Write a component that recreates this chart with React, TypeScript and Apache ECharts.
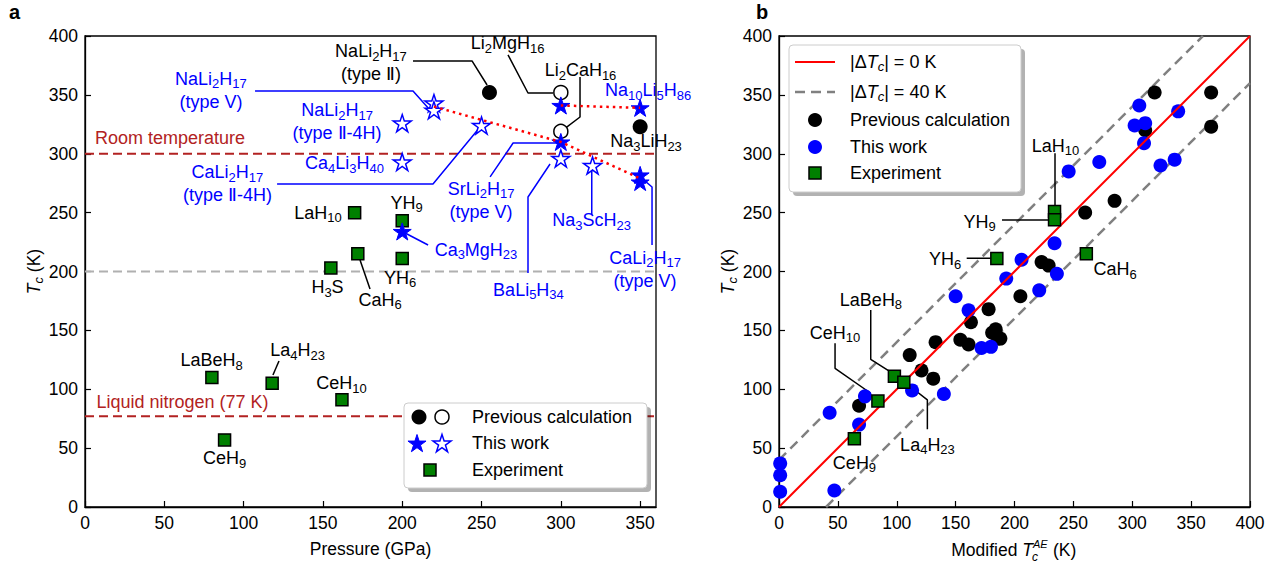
import React, { useEffect, useRef } from 'react';
import * as echarts from 'echarts';

const FONT = '"Liberation Sans", Arial, Helvetica, sans-serif';
const BLUE = '#0000ff';
const GREEN = '#008000';
const BROWN = '#b22222';
const GREY_A = '#b0b0b0';
const GREY_B = '#808080';
const FS = 18;
const FS_SUB = 13;

// ---------------- Panel a : Tc vs pressure ----------------
const aPrevFilled = [[255, 352], [350, 323]];
const aPrevOpen = [[300, 352], [300, 319]];
const aWorkFilled = [[300, 341], [350, 339], [300, 310], [350, 282], [350, 276], [200, 234]];
const aWorkOpen = [[220, 343], [220, 337], [200, 326], [250, 324], [200, 293], [300, 296], [320, 290]];
const aExperiment = [[170, 250], [200, 243], [200, 211], [172, 215], [155, 203], [80, 110], [118, 105], [162, 91], [88, 57]];
const aTrendLines = [
  [[220, 340], [300, 310], [350, 279]],
  [[300, 341], [350, 339]],
];
const roomTemperature = 300;
const liquidNitrogen = 77;
const greyReference = 200;
const aXMax = 360;

const aConnectors = [
  { color: BLUE, pts: [[107.2, 353.3], [206.8, 353.3], [217.5, 337.2]] },
  { color: BLUE, pts: [[121.1, 274.3], [219.4, 274.3], [249.1, 322.7]] },
  { color: '#000', pts: [[206.8, 378.8], [244, 378.8], [253.5, 358.4]] },
  { color: '#000', pts: [[266.7, 383.9], [279.3, 351.6], [295.1, 351.6]] },
  { color: '#000', pts: [[312.1, 365.2], [312.1, 331.2], [301.4, 320.2]] },
  { color: BLUE, pts: [[255.4, 280.3], [269.9, 309.1], [299.5, 309.1]] },
  { color: BLUE, pts: [[279.3, 198.7], [279.3, 263.3], [293.2, 291.3]] },
  { color: BLUE, pts: [[319.5, 248], [319.5, 286.2]] },
  { color: BLUE, pts: [[357.5, 222.5], [357.5, 271.8], [350, 280.3]] },
  { color: BLUE, pts: [[201.8, 232.7], [216.3, 222.5]] },
  { color: '#000', pts: [[173.4, 209.8], [179.7, 185.1]] },
  { color: '#000', pts: [[122.3, 124], [118.5, 112.1]] },
];

const aLabels = [
  { text: 'NaLi_2H_17\n(type V)', at: [79.4, 354.1], color: BLUE },
  { text: 'NaLi_2H_17\n(type Ⅱ)', at: [180.3, 377.1], color: '#000' },
  { text: 'Li_2MgH_16', at: [266.4, 394], color: '#000' },
  { text: 'Li_2CaH_16', at: [312.4, 371.1], color: '#000' },
  { text: 'Na_10Li_5H_86', at: [355, 354.1], color: BLUE },
  { text: 'Na_3LiH_23', at: [353.7, 310.8], color: '#000' },
  { text: 'NaLi_2H_17\n(type Ⅱ-4H)', at: [158.9, 327], color: BLUE },
  { text: 'Ca_4Li_3H_40', at: [163.6, 292.1], color: BLUE },
  { text: 'Room temperature', at: [53.6, 313.4], color: BROWN },
  { text: 'CaLi_2H_17\n(type Ⅱ-4H)', at: [89.8, 274.7], color: BLUE },
  { text: 'SrLi_2H_17\n(type V)', at: [249.7, 260.7], color: BLUE },
  { text: 'LaH_10', at: [146.9, 249.7], color: '#000' },
  { text: 'YH_9', at: [202.7, 258.2], color: '#000' },
  { text: 'Ca_3MgH_23', at: [246.5, 218.3], color: BLUE },
  { text: 'Na_3ScH_23', at: [319.4, 243.7], color: BLUE },
  { text: 'CaLi_2H_17\n(type V)', at: [353.1, 202.1], color: BLUE },
  { text: 'YH_6', at: [198.6, 194.5], color: '#000' },
  { text: 'H_3S', at: [152.9, 186.8], color: '#000' },
  { text: 'CaH_6', at: [186, 175.8], color: '#000' },
  { text: 'BaLi_5H_34', at: [279.6, 184.3], color: BLUE },
  { text: 'LaBeH_8', at: [79.8, 124.8], color: '#000' },
  { text: 'La_4H_23', at: [134, 133.3], color: '#000' },
  { text: 'CeH_10', at: [161.7, 105.3], color: '#000' },
  { text: 'Liquid nitrogen (77 K)', at: [61.5, 89.2], color: BROWN },
  { text: 'CeH_9', at: [88, 41.6], color: '#000' },
];

// ---------------- Panel b : Tc vs modified Tc^AE ----------------
const bPrevious = [
  [319, 352], [367, 352], [367, 323], [311, 320], [285, 260], [260, 250], [223, 208], [229, 205],
  [205, 179], [188, 143], [178, 168], [163, 157], [154, 142], [161, 138], [181, 148], [186, 143],
  [184, 151], [133, 140], [111, 129], [121, 116], [131, 109], [68, 86],
];
const bThisWork = [
  [306, 341], [339, 336], [302, 324], [311, 326], [310, 309], [272, 293], [246, 285], [336, 295],
  [324, 290], [234, 224], [206, 210], [236, 198], [221, 184], [193, 194], [150, 179], [161, 167],
  [172, 135], [180, 136], [113, 99], [140, 96], [73, 94], [43, 80], [68, 70], [1, 37], [1, 27],
  [1, 13], [47, 14],
];
const bExperiment = [[234, 251], [234, 244], [185, 211], [261, 215], [98, 111], [106, 106], [84, 90], [64, 58]];
const bMax = 400;
const bOffset = 40;

const bConnectors = [
  { color: '#000', pts: [[234.4, 300.4], [234.4, 250.8]] },
  { color: '#000', pts: [[189.4, 243.7], [230.1, 243.7]] },
  { color: '#000', pts: [[159.4, 211.2], [179.8, 211.2]] },
  { color: '#000', pts: [[77.9, 167.3], [77.9, 125.4], [94.3, 114.9]] },
  { color: '#000', pts: [[47.6, 139], [47.6, 117.8], [77.9, 96.6]] },
  { color: '#000', pts: [[126, 66], [126, 90.9], [109.8, 103.6]] },
];

const bLabels = [
  { text: 'LaH_10', at: [234.8, 306.6], color: '#000' },
  { text: 'YH_9', at: [170.3, 242.3], color: '#000' },
  { text: 'YH_6', at: [141, 210.6], color: '#000' },
  { text: 'CaH_6', at: [285.4, 202.1], color: '#000' },
  { text: 'LaBeH_8', at: [78.1, 175.8], color: '#000' },
  { text: 'CeH_10', at: [47.6, 147.8], color: '#000' },
  { text: 'La_4H_23', at: [126.1, 52.7], color: '#000' },
  { text: 'CeH_9', at: [64.1, 37.4], color: '#000' },
];

// ---------------- helpers ----------------
function starPoints(cx: number, cy: number, R: number) {
  const pts: number[][] = [];
  for (let k = 0; k < 10; k++) {
    const r = k % 2 === 0 ? R : R * 0.381966;
    const ang = -Math.PI / 2 + (k * Math.PI) / 5;
    pts.push([cx + r * Math.cos(ang), cy + r * Math.sin(ang)]);
  }
  return pts;
}
const STAR = 'path://M' + starPoints(0, 0, 10).map((p) => p[0].toFixed(3) + ',' + p[1].toFixed(3)).join('L') + 'Z';

function formula(s: string) {
  return s
    .split('\n')
    .map((line) =>
      line
        .split(/(_\d+)/)
        .filter((p) => p.length > 0)
        .map((p) => (p[0] === '_' ? `{s|${p.slice(1)}}` : `{n|${p}}`))
        .join('')
    )
    .join('\n');
}
function richFor(color: string) {
  return {
    n: { color, fill: color, fontSize: FS, fontFamily: FONT, lineHeight: 23 },
    s: { color, fill: color, fontSize: FS_SUB, fontFamily: FONT, verticalAlign: 'bottom' },
  };
}
const mathRich = (color: string, size = FS) => ({
  n: { color, fill: color, fontSize: size, fontFamily: FONT, lineHeight: 22 },
  i: { color, fill: color, fontSize: size, fontFamily: FONT, fontStyle: 'italic', lineHeight: 22 },
  s: { color, fill: color, fontSize: FS_SUB, fontFamily: FONT, fontStyle: 'italic', verticalAlign: 'bottom' },
});

function lineSeries(pts: number[][], idx: number, color: string, width: number, type: any, z = 2) {
  return {
    type: 'line', xAxisIndex: idx, yAxisIndex: idx, data: pts, symbol: 'none', silent: true, z,
    lineStyle: { color, width, type, opacity: 1 },
  };
}
function labelSeries(items: { text: string; at: number[]; color: string }[], idx: number) {
  return {
    type: 'scatter', xAxisIndex: idx, yAxisIndex: idx, symbol: 'circle', symbolSize: 1, silent: true, z: 20,
    itemStyle: { color: 'rgba(0,0,0,0)', opacity: 1 },
    data: items.map((it) => ({
      value: it.at,
      label: {
        show: true, position: 'inside', formatter: formula(it.text), color: it.color, opacity: 1,
        fontFamily: FONT, fontSize: FS, rich: richFor(it.color),
      },
    })),
  };
}
function markerSeries(data: number[][], idx: number, symbol: string, size: number, itemStyle: any, z: number) {
  return {
    type: 'scatter', xAxisIndex: idx, yAxisIndex: idx, data, symbol, symbolSize: size, symbolKeepAspect: true, z,
    silent: true, itemStyle: { opacity: 1, ...itemStyle },
  };
}

const axisBase = {
  type: 'value',
  axisLine: { show: true, onZero: false, lineStyle: { color: '#000', width: 1.3 } },
  axisTick: { show: true, inside: true, length: 6, lineStyle: { color: '#000', width: 1.2 } },
  splitLine: { show: false },
};
const labelBase = { color: '#000', fontSize: 17.5, fontFamily: FONT, margin: 7 };

function legendText(x: number, y: number, text: string, rich: any) {
  return {
    type: 'text', x, y, z: 100,
    style: { text, rich, fill: '#000', fontSize: FS, fontFamily: FONT, align: 'left', textAlign: 'left', verticalAlign: 'middle', textVerticalAlign: 'middle' },
  };
}

export default function App() {
  const ref = useRef<HTMLDivElement>(null);
  useEffect(() => {
    if (!ref.current) return;
    const chart = echarts.init(ref.current, null, { renderer: 'svg' });
    const plain = { n: { fill: '#000', color: '#000', fontSize: FS, fontFamily: FONT } };

    const series: any[] = [];
    // panel a reference lines
    series.push(lineSeries([[0, greyReference], [aXMax, greyReference]], 0, GREY_A, 2, [9, 5]));
    series.push(lineSeries([[0, roomTemperature], [aXMax, roomTemperature]], 0, BROWN, 2, [9, 5]));
    series.push(lineSeries([[0, liquidNitrogen], [aXMax, liquidNitrogen]], 0, BROWN, 2, [9, 5]));
    aConnectors.forEach((c) => series.push(lineSeries(c.pts, 0, c.color, 1.5, 'solid')));
    // panel a markers
    series.push(markerSeries(aExperiment, 0, 'rect', 12, { color: GREEN, borderColor: '#000', borderWidth: 1.5 }, 5));
    series.push(markerSeries(aPrevFilled, 0, 'circle', 15, { color: '#000' }, 5));
    series.push(markerSeries(aPrevOpen, 0, 'circle', 14, { color: '#fff', borderColor: '#000', borderWidth: 1.5 }, 5));
    series.push(markerSeries(aWorkOpen, 0, STAR, 18, { color: '#fff', borderColor: BLUE, borderWidth: 1.5 }, 6));
    series.push(markerSeries(aWorkFilled, 0, STAR, 18, { color: BLUE, borderColor: BLUE, borderWidth: 1 }, 6));
    aTrendLines.forEach((l) => series.push(lineSeries(l, 0, '#ff0000', 2.5, [2.5, 4], 7)));
    series.push(labelSeries(aLabels, 0));

    // panel b
    series.push(lineSeries([[0, bOffset], [bMax - bOffset, bMax]], 1, GREY_B, 2.5, [10, 6]));
    series.push(lineSeries([[bOffset, 0], [bMax, bMax - bOffset]], 1, GREY_B, 2.5, [10, 6]));
    bConnectors.forEach((c) => series.push(lineSeries(c.pts, 1, c.color, 1.5, 'solid')));
    series.push(markerSeries(bPrevious, 1, 'circle', 14, { color: '#000' }, 4));
    series.push(markerSeries(bThisWork, 1, 'circle', 14, { color: BLUE }, 4));
    series.push(lineSeries([[0, 0], [bMax, bMax]], 1, '#ff0000', 2, 'solid', 5));
    series.push(markerSeries(bExperiment, 1, 'rect', 12, { color: GREEN, borderColor: '#000', borderWidth: 1.5 }, 6));
    series.push(labelSeries(bLabels, 1));

    const txt = (x: number, y: number, text: string, size: number, extra: any = {}) => ({
      type: 'text', x, y,
      style: { text, fill: '#000', fontSize: size, fontFamily: FONT, align: 'left', textAlign: 'left', verticalAlign: 'middle', textVerticalAlign: 'middle', ...extra },
    });

    const graphic: any[] = [
      txt(9, 12, 'a', 20, { fontWeight: 'bold' }),
      txt(756, 12, 'b', 20, { fontWeight: 'bold' }),
      // x title of panel b
      { type: 'text', x: 1033, y: 550, style: { text: '{n|Modified }{i|T}', rich: mathRich('#000', 17.5), align: 'right', textAlign: 'right', verticalAlign: 'middle', textVerticalAlign: 'middle' } },
      txt(1033, 544, 'AE', 11, { fontStyle: 'italic' }),
      txt(1032, 557, 'c', 12, { fontStyle: 'italic' }),
      txt(1053, 550, '(K)', 17.5),
      // legend a
      { type: 'rect', shape: { x: 408, y: 407, width: 243, height: 85, r: 4 }, style: { fill: 'rgba(0,0,0,0.3)' }, z: 90 },
      { type: 'rect', shape: { x: 404, y: 403, width: 243, height: 85, r: 4 }, style: { fill: '#fff', stroke: '#cccccc', lineWidth: 1 }, z: 91 },
      { type: 'circle', shape: { cx: 419, cy: 417, r: 7.5 }, style: { fill: '#000' }, z: 100 },
      { type: 'circle', shape: { cx: 442, cy: 417, r: 7 }, style: { fill: '#fff', stroke: '#000', lineWidth: 1.5 }, z: 100 },
      { type: 'polygon', shape: { points: starPoints(417, 444, 9.5) }, style: { fill: BLUE, stroke: BLUE, lineWidth: 1 }, z: 100 },
      { type: 'polygon', shape: { points: starPoints(442, 444, 9.5) }, style: { fill: '#fff', stroke: BLUE, lineWidth: 1.5 }, z: 100 },
      { type: 'rect', shape: { x: 424, y: 464, width: 12, height: 12 }, style: { fill: GREEN, stroke: '#000', lineWidth: 1.5 }, z: 100 },
      legendText(472, 417, '{n|Previous calculation}', plain),
      legendText(472, 443, '{n|This work}', plain),
      legendText(472, 470, '{n|Experiment}', plain),
      // legend b
      { type: 'rect', shape: { x: 793, y: 49, width: 232, height: 147, r: 4 }, style: { fill: 'rgba(0,0,0,0.3)' }, z: 90 },
      { type: 'rect', shape: { x: 789, y: 45, width: 232, height: 147, r: 4 }, style: { fill: '#fff', stroke: '#cccccc', lineWidth: 1 }, z: 91 },
      { type: 'line', shape: { x1: 795, y1: 62, x2: 835, y2: 62 }, style: { stroke: '#ff0000', lineWidth: 2 }, z: 100 },
      { type: 'line', shape: { x1: 795, y1: 92, x2: 835, y2: 92 }, style: { stroke: GREY_B, lineWidth: 2.5, lineDash: [10, 6] }, z: 100 },
      { type: 'circle', shape: { cx: 815, cy: 120, r: 7 }, style: { fill: '#000' }, z: 100 },
      { type: 'circle', shape: { cx: 815, cy: 147, r: 7 }, style: { fill: BLUE }, z: 100 },
      { type: 'rect', shape: { x: 809, y: 167, width: 12, height: 12 }, style: { fill: GREEN, stroke: '#000', lineWidth: 1.5 }, z: 100 },
      legendText(850, 62, '{n||Δ}{i|T}{s|c}{n|| = 0 K}', mathRich('#000')),
      legendText(850, 92, '{n||Δ}{i|T}{s|c}{n|| = 40 K}', mathRich('#000')),
      legendText(850, 120, '{n|Previous calculation}', plain),
      legendText(850, 147, '{n|This work}', plain),
      legendText(850, 173, '{n|Experiment}', plain),
    ];

    const yName = '{i|T}{s|c}{n| (K)}';
    chart.setOption({
      animation: false,
      textStyle: { fontFamily: FONT },
      grid: [
        { left: 85, top: 36, width: 571, height: 471, show: true, borderColor: '#000', borderWidth: 1.3 },
        { left: 779, top: 36, width: 471, height: 471, show: true, borderColor: '#000', borderWidth: 1.3 },
      ],
      xAxis: [
        {
          ...axisBase, gridIndex: 0, min: 0, max: aXMax, interval: 50,
          axisLabel: { ...labelBase, showMaxLabel: false },
          name: 'Pressure (GPa)', nameLocation: 'middle', nameGap: 33,
          nameTextStyle: { color: '#000', fontSize: 17.5, fontFamily: FONT },
        },
        { ...axisBase, gridIndex: 1, min: 0, max: bMax, interval: 50, axisLabel: { ...labelBase } },
      ],
      yAxis: [
        {
          ...axisBase, gridIndex: 0, min: 0, max: 400, interval: 50, axisLabel: { ...labelBase },
          name: yName, nameLocation: 'middle', nameGap: 40, nameRotate: 90,
          nameTextStyle: { rich: mathRich('#000', 17.5) },
        },
        {
          ...axisBase, gridIndex: 1, min: 0, max: bMax, interval: 50, axisLabel: { ...labelBase },
          name: yName, nameLocation: 'middle', nameGap: 40, nameRotate: 90,
          nameTextStyle: { rich: mathRich('#000', 17.5) },
        },
      ],
      series,
      graphic,
    });
    return () => chart.dispose();
  }, []);
  return <div ref={ref} style={{ position: 'fixed', left: 0, top: 0, width: 1282, height: 567, background: '#fff' }} />;
}
